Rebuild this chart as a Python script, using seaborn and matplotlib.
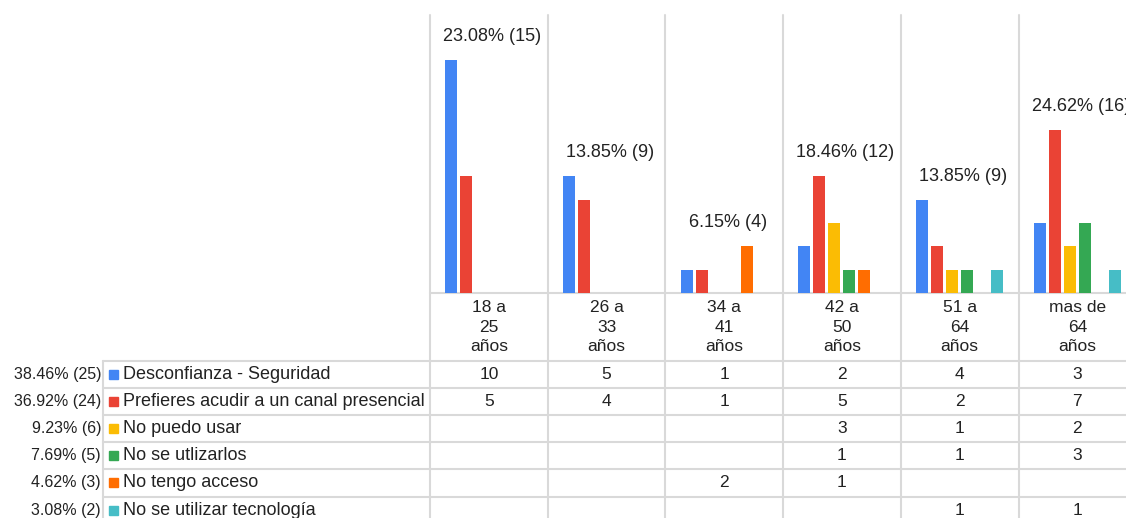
import pandas as pd
import seaborn as sns
import matplotlib.pyplot as plt

# datos
edades = ['18 a\n25\naños', '26 a\n33\naños', '34 a\n41\naños',
          '42 a\n50\naños', '51 a\n64\naños', 'mas de\n64\naños']
motivos = ['Desconfianza - Seguridad', 'Prefieres acudir a un canal presencial',
           'No puedo usar', 'No se utlizarlos', 'No tengo acceso',
           'No se utilizar tecnología']
desconfianza = [10, 5, 1, 2, 4, 3]
presencial = [5, 4, 1, 5, 2, 7]
no_puedo = [0, 0, 0, 3, 1, 2]
no_se_utlizarlos = [0, 0, 0, 1, 1, 3]
no_acceso = [0, 0, 2, 1, 0, 0]
no_tecnologia = [0, 0, 0, 0, 1, 1]
colores = ['#4285F4', '#EA4335', '#FBBC04', '#34A853', '#FF6D01', '#46BDC6']

series = [desconfianza, presencial, no_puedo, no_se_utlizarlos, no_acceso, no_tecnologia]
rows = []
for m, vals in zip(motivos, series):
    for e, v in zip(edades, vals):
        rows.append({'edad': e, 'motivo': m, 'n': v})
df = pd.DataFrame(rows)
total = df['n'].sum()
por_edad = df.groupby('edad', sort=False)['n'].sum()
por_motivo = df.groupby('motivo', sort=False)['n'].sum()

sns.set_style('white')
plt.rcParams['font.family'] = ['Liberation Sans', 'DejaVu Sans']
txt = '#222222'
grid = '#d9d9d9'

# layout in pixels
W, H = 1126, 518
X0, COL = 430, 117.7
BASE, TOP = 293, 15
ROW0, ROWH = 361, 27.1
LEG_X = 103
PX_UNIT = 23.3

fig = plt.figure(figsize=(W / 100, H / 100), dpi=100)

# background axes for the table grid and text (pixel coords)
bg = fig.add_axes([0, 0, 1, 1])
bg.set_xlim(0, W)
bg.set_ylim(H, 0)
bg.axis('off')

for i in range(len(edades) + 1):
    x = X0 + i * COL
    bg.plot([x, x], [TOP, H], color=grid, lw=1.5)
bg.plot([X0, W], [BASE, BASE], color=grid, lw=1.5)
for j in range(len(motivos)):
    y = ROW0 + j * ROWH
    bg.plot([LEG_X, W], [y, y], color=grid, lw=1.5)
bg.plot([LEG_X, LEG_X], [ROW0, H], color=grid, lw=1.5)

# header row
for i, e in enumerate(edades):
    bg.text(X0 + (i + 0.5) * COL, 327, e, ha='center', va='center',
            fontsize=12.5, color=txt, linespacing=1.38)

# legend rows + values
for j, (m, vals) in enumerate(zip(motivos, series)):
    yc = ROW0 + (j + 0.5) * ROWH
    n = por_motivo[m]
    bg.text(LEG_X - 2, yc, f'{n / total * 100:.2f}% ({n})', ha='right', va='center',
            fontsize=11.5, color=txt)
    bg.add_patch(plt.Rectangle((109, yc - 4.5), 9, 9, color=colores[j]))
    bg.text(123, yc, m, ha='left', va='center', fontsize=13, color=txt)
    for i, v in enumerate(vals):
        if v:
            bg.text(X0 + (i + 0.5) * COL, yc, str(v), ha='center', va='center',
                    fontsize=12.5, color=txt)

# bar chart
ax = fig.add_axes([X0 / W, (H - BASE) / H, 6 * COL / W, (BASE - TOP) / H])
sns.barplot(data=df, x='edad', y='n', hue='motivo', order=edades, hue_order=motivos,
            palette=colores, saturation=1, width=0.765, gap=0.2, linewidth=0,
            errorbar=None, legend=False, ax=ax)
ax.set_xlim(-0.5, len(edades) - 0.5)
ax.set_ylim(0, (BASE - TOP) / PX_UNIT)
ax.patch.set_alpha(0)
ax.axis('off')

for i, e in enumerate(edades):
    top = df[df['edad'] == e]['n'].max()
    n = por_edad[e]
    ax.annotate(f'{n / total * 100:.2f}% ({n})', (i + 0.03, top), xytext=(0, 17),
                textcoords='offset points', ha='center', va='center',
                fontsize=13, color=txt, annotation_clip=False)

fig.savefig('out.png', dpi=100)
